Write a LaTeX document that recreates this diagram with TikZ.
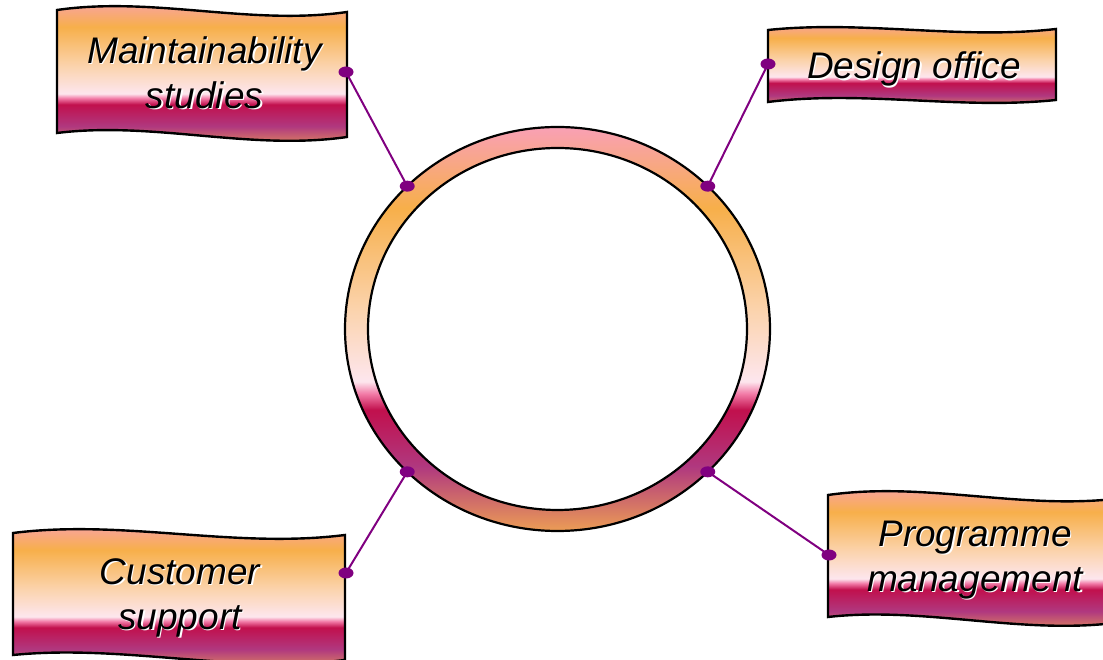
\documentclass[tikz,border=0pt]{standalone}
\usepackage{fontspec}
\setmainfont{Liberation Sans}
\usetikzlibrary{calc}

\definecolor{sunT}{RGB}{249,160,181}
\definecolor{sunO}{RGB}{247,175,74}
\definecolor{sunL}{RGB}{251,211,172}
\definecolor{sunW}{RGB}{253,230,238}
\definecolor{sunH}{RGB}{242,123,167}
\definecolor{sunC}{RGB}{193,16,77}
\definecolor{sunP}{RGB}{176,56,127}
\definecolor{sunB}{RGB}{236,157,85}
\definecolor{linkc}{RGB}{128,0,128}

\pgfdeclareverticalshading{sunset}{100bp}{color(0bp)=(sunB); color(25bp)=(sunB);
  color(33bp)=(sunP); color(40bp)=(sunC); color(42bp)=(sunH); color(43.5bp)=(sunW);
  color(52.5bp)=(sunL); color(65bp)=(sunO); color(75bp)=(sunT); color(100bp)=(sunT)}

\newcommand{\shd}[1]{\makebox[0pt][l]{\kern1.4pt\raisebox{-1.4pt}{\color{white}#1}}#1}

\begin{document}
\begin{tikzpicture}[x=1pt, y=1pt,
    banner/.style ={draw=black, line width=2.4pt, shading=sunset},
    bannertext/.style ={font=\fontsize{37}{45}\selectfont\itshape, align=center, inner sep=0pt},
    link/.style ={draw=linkc, line width=2pt}]
   \useasboundingbox (0,0) rectangle (1103,660);

   \coordinate (c) at (557.5,331);
   \draw[line width=2.2pt, shading=sunset] (c) ellipse (212.5 and 202);
   \draw[line width=2.2pt, fill=white] (c) ellipse (189.5 and 181);

   \draw[banner] (57,650) .. controls (154,664) and (250,634) .. (347,648) -- (347,523)
      .. controls (250,509) and (154,539) .. (57,527) -- cycle;
   \draw[banner] (768,630) .. controls (864,640) and (960,620) .. (1056,631) -- (1056,560)
      .. controls (960,550) and (864,570) .. (768,558) -- cycle;
   \draw[banner] (828,165) .. controls (926,179) and (1024,149) .. (1122,162) -- (1122,38)
      .. controls (1024,24) and (926,54) .. (828,43) -- cycle;
   \draw[banner] (13,127) .. controls (124,141) and (234,111) .. (345,125) -- (345,0)
      .. controls (234,-14) and (124,16) .. (13,5) -- cycle;

   \node[bannertext] (ms) at (204.5,587) {\shd{Maintainability}\\\shd{studies}};
   \node[bannertext, anchor=base] (do) at (914,581) {\shd{Design office}};
   \node[bannertext] (pm) at (975,99.5) {\shd{Programme}\\\shd{management}};
   \node[bannertext] (cs) at (180,61.5) {\shd{Customer}\\\shd{support}};

   \coordinate (r1) at ($(c)+(135:212.5 and 202)$);
   \coordinate (r2) at ($(c)+(45:212.5 and 202)$);
   \coordinate (r3) at ($(c)+(225:212.5 and 202)$);
   \coordinate (r4) at ($(c)+(315:212.5 and 202)$);
   \coordinate (b1) at (346,588);
   \coordinate (b2) at (768,596);
   \coordinate (b3) at (346,87);
   \coordinate (b4) at (829,105);

   \draw[link] (b1) -- (r1);
   \draw[link] (b2) -- (r2);
   \draw[link] (b3) -- (r3);
   \draw[link] (b4) -- (r4);
   \foreach \p in {r1,r2,r3,r4,b1,b2,b3,b4}
     \fill[linkc] (\p) ellipse (7.5 and 5.5);

 \end{tikzpicture}
\end{document}
